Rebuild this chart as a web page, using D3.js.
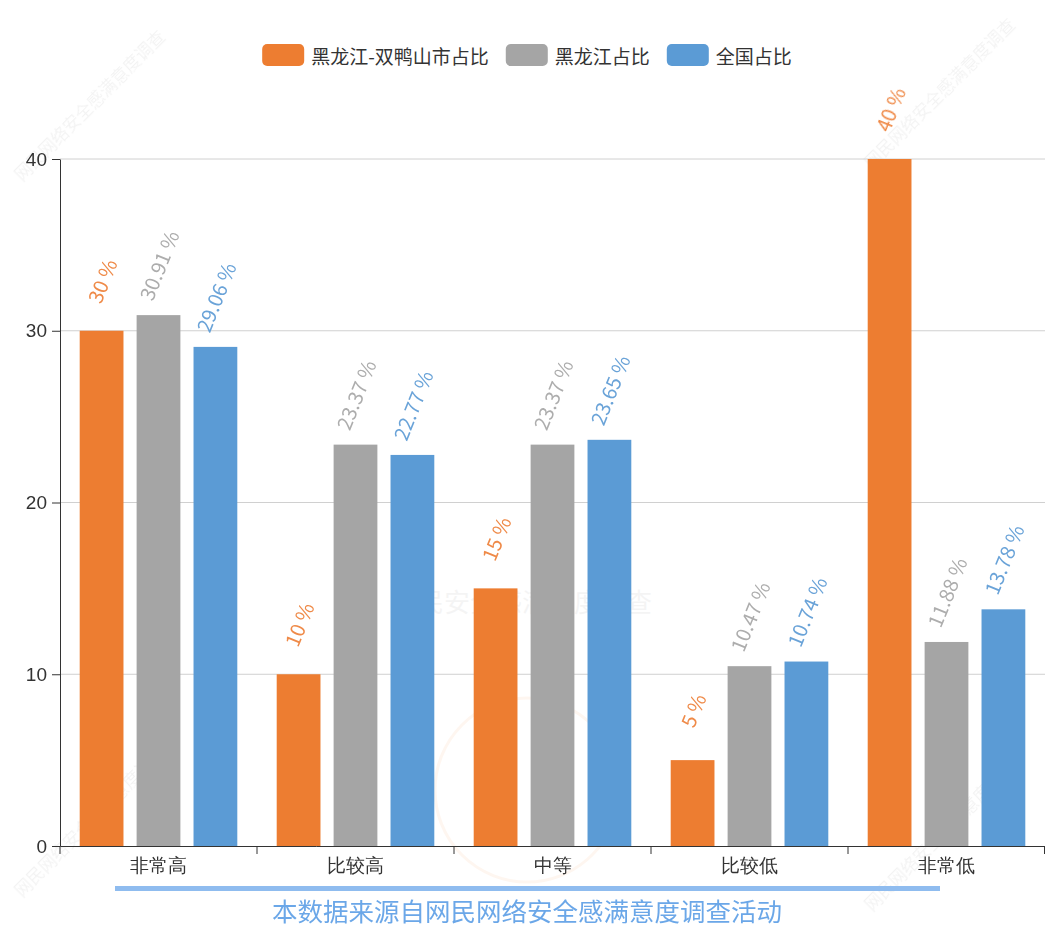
<!DOCTYPE html>
<html>
<head>
<meta charset="utf-8">
<script src="https://cdn.jsdelivr.net/npm/d3@7"></script>
<style>
  html, body { margin: 0; padding: 0; background: #fff; }
  svg { display: block; font-family: "Microsoft YaHei", "Noto Sans CJK SC", "Noto Sans", sans-serif; }
</style>
</head>
<body>
<svg id="chart" width="1045" height="926"></svg>
<script>
// ---- data ----
const categories = ["非常高", "比较高", "中等", "比较低", "非常低"];
const seriesNames = ["黑龙江-双鸭山市占比", "黑龙江占比", "全国占比"];
const shuangyashan = [30, 10, 15, 5, 40];
const heilongjiang = [30.91, 23.37, 23.37, 10.47, 11.88];
const national = [29.06, 22.77, 23.65, 10.74, 13.78];
const yTicks = [0, 10, 20, 30, 40];
const colors = ["#ed7d31", "#a5a5a5", "#5b9bd5"];
const labelColors = ["#ef8a48", "#adadad", "#6aa3d8"];
const footnote = "本数据来源自网民网络安全感满意度调查活动";
const watermarkText = "网民网络安全感满意度调查";

const seriesValues = [shuangyashan, heilongjiang, national];

(function () {
const svg = d3.select("#chart");
const plotLeft = 60, plotRight = 1045, plotTop = 159, plotBottom = 846;

const x = d3.scaleBand().domain(categories).range([plotLeft, plotRight]).paddingInner(0).paddingOuter(0);
const groupW = x.bandwidth() * 0.8;
const xs = d3.scaleBand().domain(d3.range(seriesNames.length)).range([0, groupW]).paddingInner(0.3 / 1.3).paddingOuter(0);
const y = d3.scaleLinear().domain([0, 40]).range([plotBottom, plotTop]);

// watermarks (faint)
const wm = svg.append("g").attr("fill", "#000").attr("opacity", 0.05).attr("font-size", 17);
[[22, 182], [872, 170], [22, 898], [872, 912]].forEach(p => {
  wm.append("text").attr("transform", `translate(${p[0]},${p[1]}) rotate(-45)`).text(watermarkText);
});
svg.append("text").attr("x", 522).attr("y", 612).attr("text-anchor", "middle")
  .attr("font-size", 26).attr("fill", "#000").attr("opacity", 0.04).text("网民安全感满意度调查");
svg.append("circle").attr("cx", 527).attr("cy", 790).attr("r", 92)
  .attr("fill", "none").attr("stroke", "#ed7d31").attr("stroke-opacity", 0.07).attr("stroke-width", 3);

// grid lines
svg.append("g").selectAll("line").data(yTicks.filter(d => d > 0)).join("line")
  .attr("x1", plotLeft).attr("x2", plotRight).attr("y1", d => y(d)).attr("y2", d => y(d))
  .attr("stroke", "#d0d0d0").attr("stroke-width", 1);

// bars
const groups = svg.append("g").selectAll("g").data(seriesNames).join("g")
  .attr("fill", (d, i) => colors[i]);
groups.each(function(name, si) {
  const g = d3.select(this);
  const data = categories.map((c, ci) => ({ c, v: seriesValues[si][ci] }));
  const bx = d => x(d.c) + (x.bandwidth() - groupW) / 2 + xs(si);
  g.selectAll("rect").data(data).join("rect")
    .attr("x", bx)
    .attr("width", xs.bandwidth())
    .attr("y", d => y(d.v))
    .attr("height", d => plotBottom - y(d.v));
  g.selectAll("text").data(data).join("text")
    .attr("transform", d => `translate(${bx(d) + xs.bandwidth() / 2},${y(d.v) - 50}) rotate(-68)`)
    .attr("text-anchor", "middle").attr("dominant-baseline", "central")
    .attr("font-size", 20).attr("fill", labelColors[si])
    .text(d => d.v + " %");
});

// y axis
const yAxis = svg.append("g").attr("transform", `translate(${plotLeft},0)`)
  .call(d3.axisLeft(y).tickValues(yTicks).tickSize(8).tickPadding(5).tickSizeOuter(0));
yAxis.select(".domain").attr("stroke", "#333");
yAxis.selectAll(".tick line").attr("stroke", "#333");
yAxis.selectAll(".tick text").attr("font-size", 19).attr("fill", "#333").attr("font-family", null);

// x axis
const xAxis = svg.append("g").attr("transform", `translate(0,${plotBottom})`)
  .call(d3.axisBottom(x).tickSize(0).tickPadding(13).tickSizeOuter(0));
xAxis.select(".domain").attr("stroke", "#333");
xAxis.selectAll(".tick text").attr("font-size", 19).attr("fill", "#333").attr("font-family", null);
xAxis.selectAll("line.boundary").data(categories.concat(["end"])).join("line")
  .attr("class", "boundary")
  .attr("x1", (d, i) => i < categories.length ? x(d) : plotRight - 0.5)
  .attr("x2", (d, i) => i < categories.length ? x(d) : plotRight - 0.5)
  .attr("y1", 0).attr("y2", 8).attr("stroke", "#333");

// legend
const legend = svg.append("g");
let lx = 254;
seriesNames.forEach((n, i) => {
  const g = legend.append("g").attr("transform", `translate(${lx},44)`);
  g.append("rect").attr("width", 42).attr("height", 22).attr("rx", 5).attr("fill", colors[i]);
  const t = g.append("text").attr("x", 49).attr("y", 11).attr("dominant-baseline", "central")
    .attr("font-size", 19).attr("fill", "#333").text(n);
  lx += 49 + t.node().getComputedTextLength() + 17;
});
const lb = legend.node().getBBox();
legend.attr("transform", `translate(${527 - (lb.x + lb.width / 2)},0)`);

// footnote
svg.append("rect").attr("x", 115).attr("y", 886).attr("width", 825).attr("height", 5).attr("fill", "#8fbcef");
svg.append("text").attr("x", 527).attr("y", 909).attr("text-anchor", "middle").attr("dominant-baseline", "central")
  .attr("font-size", 25.5).attr("fill", "#6ba7e8").text(footnote);
})();
</script>
</body>
</html>
